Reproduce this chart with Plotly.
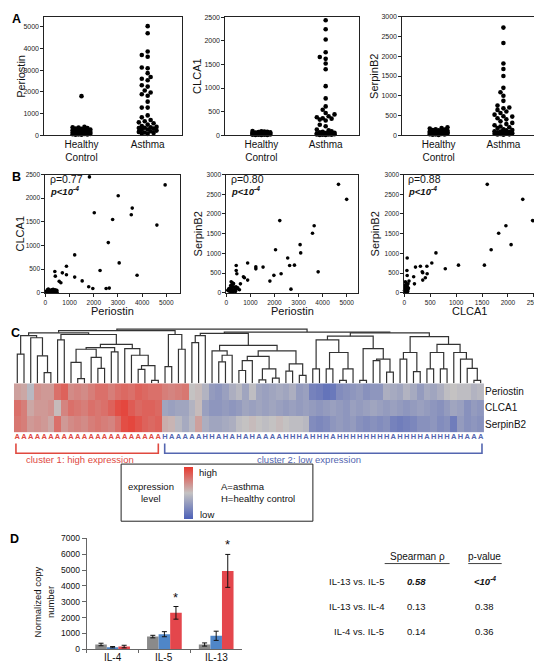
import plotly.graph_objects as go

W, H = 542, 662
FONT = "Liberation Sans, Arial, sans-serif"

def fx(p):
    return p / W

def fy(p):
    return 1 - p / H

# ---------------- Panel A data ----------------
groups_a = ["Healthy<br>Control", "Asthma"]
periostin_healthy = [1800, 380, 360, 350, 330, 300, 290, 260, 250, 230, 210, 200, 180, 160, 150,
                     130, 120, 100, 90, 80, 70, 60, 50, 40, 35, 30, 20, 15]
periostin_asthma = [5030, 4700, 3860, 3700, 3620, 3120, 3090, 2860, 2680, 2600, 2530, 2300, 2240,
                    2060, 1970, 1890, 1820, 1545, 1270, 1270, 910, 820, 700, 640, 590, 545, 485,
                    420, 360, 330, 300, 260, 210, 150, 100, 380, 340, 250, 180, 120, 80, 60]
clca1_healthy = [85, 80, 75, 70, 65, 60, 55, 50, 50, 45, 40, 40, 35, 35, 30, 30, 25, 25, 20, 20,
                 15, 15, 10, 10, 8, 5, 5, 3]
clca1_asthma = [2440, 2250, 2030, 1760, 1660, 1620, 1520, 1400, 1040, 780, 610, 540, 470, 440, 400,
                380, 360, 350, 330, 310, 220, 190, 120, 100, 80, 70, 60, 50, 45, 40, 35, 30, 30,
                25, 20, 20, 15, 15, 10, 10, 5, 5]
serpinb2_healthy = [200, 180, 170, 150, 140, 130, 120, 110, 100, 95, 90, 85, 80, 75, 70, 65, 60,
                    55, 50, 45, 40, 35, 30, 25, 20, 15, 10, 5]
serpinb2_asthma = [2730, 2340, 1820, 1680, 1500, 1200, 1090, 1000, 870, 750, 700, 680, 640, 600,
                   560, 520, 480, 470, 430, 400, 350, 310, 280, 250, 220, 200, 180, 150, 130, 120,
                   100, 90, 80, 70, 60, 50, 40, 35, 30, 20, 15, 10]

# ---------------- Panel B data ----------------
b1_periostin = [1820, 4950, 3010, 3590, 3550, 2020, 2780, 4610, 2600, 1210, 3050, 870, 2260, 3790,
                390, 410, 700, 870, 1210, 1520, 570, 640, 1790, 1960, 2510, 2640,
                20, 50, 80, 100, 120, 150, 180, 200, 220, 250, 280, 300, 320, 350, 380, 400, 420,
                450, 470, 480, 60, 90, 130, 360, 440]
b1_clca1 = [2450, 2280, 2050, 1790, 1650, 1690, 1550, 1430, 1060, 800, 630, 560, 470, 370,
            450, 350, 420, 380, 330, 250, 240, 210, 125, 90, 90, 97,
            20, 30, 60, 40, 80, 50, 20, 30, 10, 60, 40, 20, 70, 50, 30, 60, 40,
            20, 50, 10, 10, 15, 25, 25, 35]
b2_periostin = [4660, 5000, 3650, 3580, 2220, 3065, 3090, 2045, 2550, 2830, 2630, 3815, 2275, 1975,
                1810, 2685, 1525, 1225, 1225, 885, 885, 710, 750, 585, 410, 410, 435, 475, 545,
                200, 250, 230, 180, 300, 150, 350, 100, 220, 280, 330, 120, 380, 190, 260, 60,
                400, 420, 300, 210]
b2_serpinb2 = [2750, 2370, 1700, 1510, 1830, 1220, 1010, 1090, 880, 700, 690, 530, 480, 440,
               295, 90, 650, 655, 605, 755, 320, 405, 380, 225, 690, 565, 480, 125, 75,
               280, 250, 200, 180, 150, 120, 100, 100, 80, 60, 50, 40, 30, 20, 10, 60,
               150, 90, 230, 130]
b3_clca1 = [1600, 2285, 2475, 1960, 1820, 2060, 1675, 1545, 1045, 790, 610, 530, 310, 435, 355,
            345, 440, 405, 355, 215, 180, 195, 55, 50, 55, 90, 70,
            20, 30, 40, 50, 10, 60, 25, 45, 15, 70, 35, 5, 55, 30, 65, 10, 40, 80, 20, 50]
b3_serpinb2 = [2750, 2370, 1830, 1700, 1510, 1220, 1090, 700, 700, 610, 1010, 755, 670, 670, 505,
               530, 480, 380, 320, 650, 405, 225, 880, 565, 435, 295, 225,
               280, 250, 200, 180, 150, 130, 110, 100, 90, 80, 70, 60, 50, 40, 30, 20, 10,
               120, 190, 160]
rho_text = ["ρ=0.77", "ρ=0.80", "ρ=0.88"]

# ---------------- Panel C data ----------------
genes = ["Periostin", "CLCA1", "SerpinB2"]
heat_periostin = [0.25, 0.2, -0.1, 0.35, 0.3, 0.3, 0.6, 0.7, 0.4, 0.45, 0.4, 0.5, 0.6, 0.6, 0.5,
                  0.6, 0.65, 0.6, 0.7, 0.65, 0.6, 0.6,
                  0.5, 0.45, 0.5, 0.55, 0.0, 0.05, -0.15, -0.4, -0.45, -0.35, -0.2, -0.1, -0.3,
                  -0.05, -0.3, -0.35, -0.3, -0.25, -0.3, -0.2, -0.4, -0.35, -0.65, -0.7, -0.8,
                  -0.75, -0.55, -0.5, -0.45, -0.4, -0.5, -0.45, -0.45, -0.2, -0.25, -0.3, -0.15,
                  -0.25, -0.4, -0.25, -0.3, -0.2, -0.05, 0.0, -0.05, -0.05, -0.15, -0.1]
heat_clca1 = [0.6, 0.5, 0.2, 0.3, 0.3, 0.35, 0.05, 0.45, 0.6, 0.55, 0.5, 0.6, 0.55, 0.6, 0.7,
              0.85, 0.9, 0.75, 0.65, 0.7, 0.7, 0.65,
              -0.3, -0.35, -0.3, -0.3, -0.15, 0.05, -0.35, -0.45, -0.45, -0.4, -0.45, -0.4,
              -0.3, -0.35, -0.3, -0.35, -0.3, -0.35, -0.4, -0.35, -0.4, -0.35, -0.4, -0.45,
              -0.4, -0.35, -0.4, -0.45, -0.35, -0.4, -0.35, -0.3, -0.35, -0.4, -0.35, -0.4,
              -0.45, -0.4, -0.35, -0.4, -0.45, -0.5, -0.4, -0.3, -0.35, -0.5, -0.4, -0.45]
heat_serpinb2 = [0.55, 0.5, 0.3, 0.35, 0.3, 0.2, 0.6, 0.3, 0.4, 0.45, 0.4, 0.5, 0.55, 0.5, 0.45,
                 0.6, 0.85, 0.9, 0.8, 0.7, 0.65, 0.7,
                 0.15, 0.1, -0.1, -0.25, -0.1, 0.25, -0.2, -0.3, -0.3, -0.25, -0.2, -0.05, 0.0,
                 0.05, 0.0, -0.05, 0.0, 0.05, 0.0, -0.05, -0.05, -0.1, -0.55, -0.6, -0.55,
                 -0.45, -0.4, -0.45, -0.4, -0.5, -0.55, -0.5, -0.55, -0.5, -0.65, -0.7, -0.65,
                 -0.6, -0.5, -0.5, -0.45, -0.55, -0.5, -0.7, -0.4, -0.5, -0.45, -0.5]
subject_labels = "A" * 22 + "HAAAAAHHAHAHAHAAAAHHHAHHHAHHHHHHHHAHHHHAHHHAHAAA"
cluster_sizes = [22, 48]
cluster_names = ["cluster 1: high expression", "cluster 2: low expression"]
# dendrogram: [merge height, left, right]; ints are leaf indices
dendro_tree = [1.0,
    [0.97,
        [0.93,
            [0.88, [0.54, 0, 1], [0.84, 2, [0.51, 3, [0.20, 4, 5]]]],
            [0.90, [0.80, 6, 7],
                [0.72,
                    [0.66, [0.63, [0.39, 8, [0.09, 9, 10]], [0.48, 11, [0.28, 12, 13]]],
                           [0.58, 14, 15]],
                    [0.64, 16, [0.52, 17, [0.33, [0.26, 18, 19], [0.06, 20, 21]]]]]]],
        [0.90, [0.31, 22, 23], [0.63, 24, 25]]],
    [0.945,
        [0.92,
            [0.88, [0.75, 26, 27], 28],
            [0.70,
                [0.60, 29, [0.52, [0.40, 30, 31], 32]],
                [0.60,
                    [0.50, [0.42, [0.24, 33, 34], 35], [0.27, [0.07, 36, 37], [0.10, 38, 39]]],
                    [0.36, [0.23, 40, 41], [0.15, 42, 43]]]]],
        [0.93,
            [0.87,
                [0.80, [0.27, 44, 45], [0.57, [0.27, 46, 47], [0.27, [0.06, 48, 49], 50]]],
                [0.64, [0.06, 51, 52], [0.45, [0.42, 53, 54], [0.21, 55, 56]]]],
            [0.86,
                [0.57, [0.45, 57, 58], [0.22, 59, 60]],
                [0.72,
                    [0.57, [0.27, 61, 62], [0.27, 63, 64]],
                    [0.57, 65, [0.45, 66, [0.28, 67, [0.06, 68, 69]]]]]]]]]

# ---------------- Panel D data ----------------
cytokines = ["IL-4", "IL-5", "IL-13"]
healthy_copy = [300, 800, 300]
healthy_err = [80, 80, 100]
low_copy = [130, 950, 850]
low_err = [40, 160, 290]
high_copy = [170, 2300, 4950]
high_err = [80, 400, 1040]
high_star = [False, True, True]
table_rows = ["IL-13 vs. IL-5", "IL-13 vs. IL-4", "IL-4 vs. IL-5"]
table_rho = ["<b><i>0.58</i></b>", "0.13", "0.14"]
table_p = ["<b><i>&lt;10<sup>-4</sup></i></b>", "0.38", "0.36"]

# ---------------- Styles ----------------
C_GRAY, C_BLUE, C_RED = "#8a8a8a", "#4f86c8", "#e4464c"
HEAT_SCALE = [[0, "#4c60b8"], [0.5, "#c4c2c2"], [1, "#e8392f"]]
LETTER_RED, LETTER_BLUE = "#e0493f", "#5466b0"

fig = go.Figure()
layout = {}
annotations = []
shapes = []

def names(n):
    return ("xaxis" if n == 1 else f"xaxis{n}", "yaxis" if n == 1 else f"yaxis{n}",
            "x" if n == 1 else f"x{n}", "y" if n == 1 else f"y{n}")

def box_axis(dom, rng, **kw):
    d = dict(domain=dom, range=rng, showline=True, mirror=True, linecolor="#222", linewidth=1,
             ticks="outside", ticklen=3, tickwidth=0.8, tickcolor="#222", showgrid=False,
             zeroline=False, tickfont=dict(size=7, color="#222", family=FONT), fixedrange=True)
    d.update(kw)
    return d

def text(x, y, t, size=10, color="#111", xanchor="center", angle=0, yanchor="middle"):
    annotations.append(dict(xref="paper", yref="paper", x=fx(x), y=fy(y), text=t,
                            showarrow=False, xanchor=xanchor, yanchor=yanchor, textangle=angle,
                            font=dict(size=size, color=color, family=FONT)))

def swarm(values, center, ppu_y, upp_x, d=4.2, step=3.0, maxk=3):
    order = sorted(range(len(values)), key=lambda i: values[i])
    placed = []
    xs = [center] * len(values)
    for i in order:
        ypx = values[i] * ppu_y
        cands = [0.0]
        for k in range(1, maxk + 1):
            cands += [-k * step, k * step]
        best, bestd = 0.0, -1
        for c in cands:
            md = min([((c - p) ** 2 + (ypx - q) ** 2) ** 0.5 for p, q in placed], default=1e9)
            if md >= d:
                best = c
                break
            if md > bestd:
                bestd, best = md, c
        placed.append((best, ypx))
        xs[i] = center + best * upp_x
    return xs

# ---------------- Panel A ----------------
a_specs = [
    (1, 35, 175, 5455, 1000, "Periostin", 11, periostin_healthy, periostin_asthma),
    (2, 219, 355, 2510, 500, "CLCA1", 190, clca1_healthy, clca1_asthma),
    (3, 399, 536, 3000, 500, "SerpinB2", 370, serpinb2_healthy, serpinb2_asthma),
]
xr_a = [0.44, 2.52]
for n, x0, x1, ymax, dt, title, tx, hv, av in a_specs:
    xa, ya, xr, yr = names(n)
    layout[xa] = box_axis([fx(x0), fx(x1)], xr_a, anchor=yr, tickvals=[1, 2],
                          ticktext=groups_a, ticks="", tickfont=dict(size=10, color="#111", family=FONT))
    layout[ya] = box_axis([fy(124), fy(4)], [0, ymax], anchor=xr,
                          tickvals=list(range(0, int(ymax) + 1, dt)))
    ppu = (124 - 4) / ymax
    upp = (xr_a[1] - xr_a[0]) / (x1 - x0)
    for gi, vals in enumerate([hv, av]):
        xs = swarm(vals, gi + 1, ppu, upp)
        fig.add_trace(go.Scatter(x=xs, y=vals, mode="markers", xaxis=xr, yaxis=yr,
                                 marker=dict(size=4.6, color="#000"), cliponaxis=False,
                                 hoverinfo="skip"))
    text(tx, 64, title, size=11, angle=-90)

# ---------------- Panel B ----------------
b_specs = [
    (4, 36, 173, [0, 5570], 1000, [0, 2500], 500, b1_periostin, b1_clca1, "Periostin", "CLCA1", 10, 39),
    (5, 220, 354, [0, 5476], 1000, [0, 3000], 500, b2_periostin, b2_serpinb2, "Periostin", "SerpinB2", 191, 223),
    (6, 401, 533, [0, 2505], 500, [0, 3000], 500, b3_clca1, b3_serpinb2, "CLCA1", "SerpinB2", 371, 403),
]
for k, (n, x0, x1, xrg, dx, yrg, dy, xv, yv, xt, yt, ytx, rx) in enumerate(b_specs):
    xa, ya, xr, yr = names(n)
    layout[xa] = box_axis([fx(x0), fx(x1)], xrg, anchor=yr,
                          tickvals=list(range(0, int(xrg[1]) + 1, dx)),
                          tickfont=dict(size=6.5, color="#222", family=FONT))
    layout[ya] = box_axis([fy(284), fy(164)], yrg, anchor=xr,
                          tickvals=list(range(0, int(yrg[1]) + 1, dy)),
                          tickfont=dict(size=6.5, color="#222", family=FONT))
    fig.add_trace(go.Scatter(x=xv, y=yv, mode="markers", xaxis=xr, yaxis=yr,
                             marker=dict(size=3.6, color="#000"), cliponaxis=False,
                             hoverinfo="skip"))
    text((x0 + x1) / 2, 303, xt, size=11)
    text(ytx, 224, yt, size=11, angle=-90)
    text(rx, 168.5, rho_text[k], size=10.5, xanchor="left")
    text(rx, 181, "<b><i>p&lt;10<sup>-4</sup></i></b>", size=9.5, xanchor="left")

# ---------------- Panel C ----------------
n_cols = len(heat_periostin)
hx0, hx1 = 4, 482
xs_d, ys_d = [], []

def walk(node):
    if isinstance(node, int):
        return float(node), 0.0
    h, l, r = node
    xl, hl = walk(l)
    xrr, hr = walk(r)
    xs_d.extend([xl, xl, xrr, xrr, None])
    ys_d.extend([hl, h, h, hr, None])
    return (xl + xrr) / 2, h

walk(dendro_tree)
xa, ya, xr, yr = names(7)
layout[xa] = dict(domain=[fx(hx0), fx(hx1)], range=[-0.5, n_cols - 0.5], visible=False, anchor=yr)
layout[ya] = dict(domain=[fy(376.3), fy(319.5)], range=[0, 1.025], visible=False, anchor=xr)
fig.add_trace(go.Scatter(x=xs_d, y=ys_d, mode="lines", xaxis=xr, yaxis=yr,
                         line=dict(color="#333", width=1.2), hoverinfo="skip"))

xa, ya, xr, yr = names(8)
layout[xa] = dict(domain=[fx(hx0), fx(hx1)], range=[-0.5, n_cols - 0.5], visible=False, anchor=yr)
layout[ya] = dict(domain=[fy(426), fy(376)], range=[-0.5, 2.5], anchor=xr, side="right",
                  tickvals=[0, 1, 2], ticktext=genes[::-1], ticks="", showline=False,
                  showgrid=False, zeroline=False,
                  tickfont=dict(size=10, color="#111", family=FONT))
fig.add_trace(go.Heatmap(z=[heat_serpinb2, heat_clca1, heat_periostin], x=list(range(n_cols)),
                         y=[0, 1, 2], xaxis=xr, yaxis=yr, colorscale=HEAT_SCALE, zmin=-1, zmax=1,
                         hoverinfo="skip",
                         colorbar=dict(x=fx(177), xanchor="left", y=fy(487), yanchor="middle",
                                       len=52, lenmode="pixels", thickness=9,
                                       thicknessmode="pixels", outlinewidth=0,
                                       showticklabels=False, ticks="", xpad=0, ypad=0)))

xa, ya, xr, yr = names(9)
layout[xa] = dict(domain=[fx(hx0), fx(hx1)], range=[-0.5, n_cols - 0.5], visible=False, anchor=yr)
layout[ya] = dict(domain=[fy(436), fy(426)], range=[0, 1], visible=False, anchor=xr)
letter_colors = [LETTER_RED] * cluster_sizes[0] + [LETTER_BLUE] * cluster_sizes[1]
fig.add_trace(go.Scatter(x=list(range(n_cols)), y=[0.5] * n_cols, mode="text",
                         text=[f"<b>{c}</b>" for c in subject_labels], xaxis=xr, yaxis=yr,
                         textfont=dict(size=7.5, color=letter_colors, family=FONT),
                         hoverinfo="skip", cliponaxis=False))

# cluster brackets (in heatmap column units)
c_edges = [(-0.2, cluster_sizes[0] - 1.0, LETTER_RED),
           (cluster_sizes[0] - 0.05, n_cols - 0.8, LETTER_BLUE)]
for a0, a1, col in c_edges:
    shapes.append(dict(type="path", xref="x8", yref="paper",
                       path=f"M {a0},{fy(437)} L {a0},{fy(447)} L {a1},{fy(447)} L {a1},{fy(437)}",
                       line=dict(color=col, width=1.6)))
text(71, 453.5, cluster_names[0], size=9.5, color=LETTER_RED)
text(304, 453.5, cluster_names[1], size=9.5, color=LETTER_BLUE)

# legend box
shapes.append(dict(type="rect", xref="paper", yref="paper", x0=fx(113), x1=fx(308), y0=fy(516),
                   y1=fy(458), line=dict(color="#222", width=1)))
text(143, 481, "expression", size=9.5)
text(143, 493, "level", size=9.5)
text(190, 467, "high", size=9.5, xanchor="left")
text(191, 509, "low", size=9.5, xanchor="left")
text(213, 481, "A=asthma", size=9.5, xanchor="left")
text(213, 493, "H=healthy control", size=9.5, xanchor="left")

# ---------------- Panel D ----------------
bargap = 0.33
xa, ya, xr, yr = names(10)
layout[xa] = dict(domain=[fx(78), fx(236)], type="category", anchor=yr, showline=True,
                  linecolor="#666", linewidth=1, ticks="outside", tickson="boundaries",
                  ticklen=3, tickcolor="#666", showgrid=False, showticklabels=False,
                  fixedrange=True)
layout[ya] = dict(domain=[fy(646), fy(533.5)], range=[0, 7000], anchor=xr, showline=True,
                  linecolor="#666", linewidth=1, ticks="outside", ticklen=4, tickcolor="#666",
                  tickvals=list(range(0, 7001, 1000)), showgrid=False, zeroline=False,
                  tickfont=dict(size=8.5, color="#111", family=FONT), fixedrange=True)
for vals, errs, col in [(healthy_copy, healthy_err, C_GRAY), (low_copy, low_err, C_BLUE),
                        (high_copy, high_err, C_RED)]:
    fig.add_trace(go.Bar(x=cytokines, y=vals, xaxis=xr, yaxis=yr, marker=dict(color=col, line=dict(width=0)),
                         error_y=dict(type="data", array=errs, color="#111", thickness=1, width=2.5),
                         hoverinfo="skip"))
for i, cat in enumerate(cytokines):
    annotations.append(dict(xref="x10", yref="paper", x=i, y=fy(654.5), text=cat,
                            showarrow=False, yanchor="middle",
                            font=dict(size=10, color="#111", family=FONT)))
off = (1 - bargap) / 3
for i, flag in enumerate(high_star):
    if flag:
        annotations.append(dict(xref="x10", yref="y10", x=i + off, y=high_copy[i] + high_err[i],
                                text="*", showarrow=False, yanchor="bottom", yshift=0,
                                font=dict(size=13, color="#111", family=FONT)))
text(35, 598, "Normalized copy<br>number", size=9.5, angle=-90)

# table
text(414, 552, "Spearman ρ", size=10)
text(483, 552, "p-value", size=10)
shapes.append(dict(type="line", xref="paper", yref="paper", x0=fx(381), x1=fx(447), y0=fy(559),
                   y1=fy(559), line=dict(color="#111", width=0.8)))
shapes.append(dict(type="line", xref="paper", yref="paper", x0=fx(466), x1=fx(500), y0=fy(559),
                   y1=fy(559), line=dict(color="#111", width=0.8)))
for i, (lab, rho, pv) in enumerate(zip(table_rows, table_rho, table_p)):
    yy = 577 + i * 25.5
    text(382, yy, lab, size=9.5, xanchor="right")
    text(413, yy, rho, size=9.5)
    text(483, yy, pv, size=9.5)

# panel letters
for lt, x, y in [("A", 7, 6), ("B", 7, 167), ("C", 6, 325), ("D", 5, 534)]:
    text(x, y, f"<b>{lt}</b>", size=12.5, color="#000")

fig.update_layout(width=W, height=H, margin=dict(l=0, r=0, t=0, b=0), autosize=False,
                  paper_bgcolor="white", plot_bgcolor="white", showlegend=False,
                  barmode="group", bargap=bargap, bargroupgap=0,
                  font=dict(family=FONT, color="#111"), annotations=annotations, shapes=shapes,
                  **layout)
fig.write_html("out.html")
